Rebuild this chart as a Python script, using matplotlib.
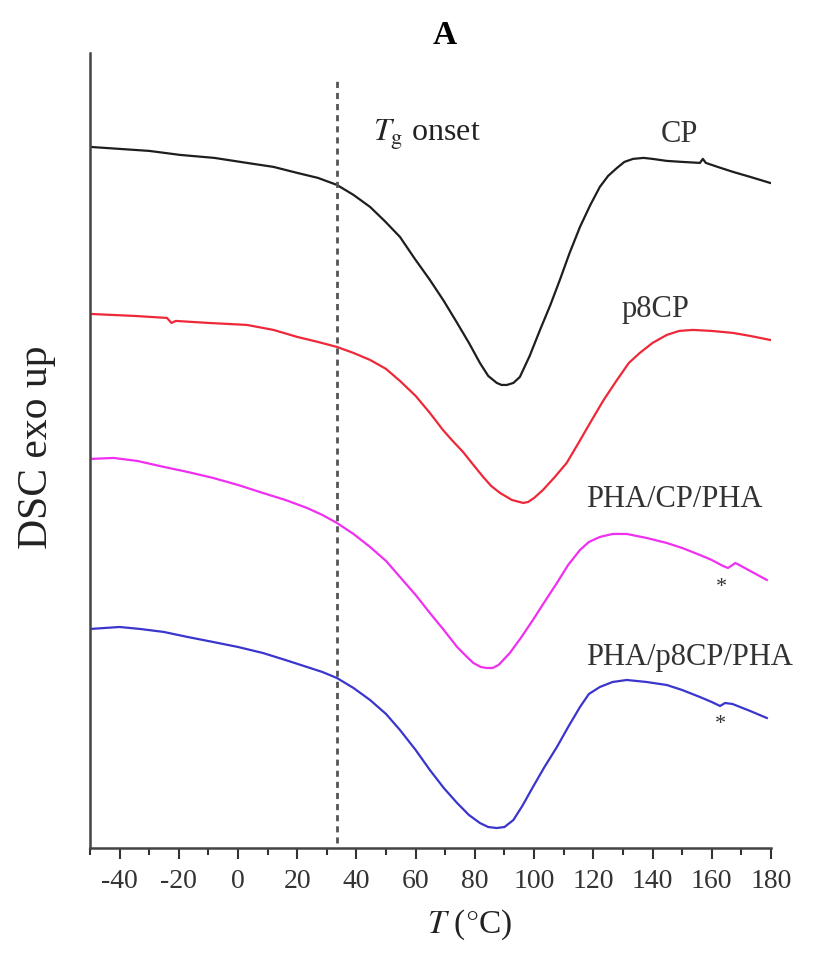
import numpy as np
import matplotlib
matplotlib.use("Agg")
import matplotlib.pyplot as plt
from matplotlib.ticker import MultipleLocator

plt.rcParams['font.family'] = ['Liberation Serif', 'DejaVu Serif']
plt.rcParams['mathtext.fontset'] = 'stix'
plt.rcParams['axes.unicode_minus'] = False

## DSC traces, heat flow in arbitrary units (curves offset for clarity)
T_cp = [-50, -30, -19.6, -8, 3, 12, 20, 27, 33.4, 39, 44.6, 49.5, 54.7, 59.5, 64.8, 69.5, 74, 78,
        81.7, 84.5, 87.4, 89, 90.8, 93, 95.2, 98.5, 102, 105.5, 108.7, 112, 115.5, 119, 122.2,
        125, 128, 130.5, 133.4, 137, 140, 144.8, 150, 156, 157, 158, 162, 167.2, 173, 179.7]
hf_cp = [7.01, 6.97, 6.93, 6.90, 6.85, 6.81, 6.75, 6.70, 6.63, 6.53, 6.41, 6.27, 6.11, 5.90, 5.68,
         5.47, 5.25, 5.05, 4.85, 4.72, 4.65, 4.63, 4.63, 4.65, 4.71, 4.92, 5.18, 5.43, 5.68, 5.95,
         6.21, 6.43, 6.61, 6.72, 6.80, 6.86, 6.89, 6.90, 6.89, 6.87, 6.86, 6.85, 6.89, 6.85, 6.81,
         6.76, 6.71, 6.65]

T_p8cp = [-50, -35, -24, -22.5, -21, -10, 3, 12, 20, 27, 33.4, 39, 44.6, 50, 54.7, 60, 64.8, 69.2,
          72.5, 76, 79.5, 82.8, 85.5, 88.5, 92.5, 96.3, 98, 100, 103, 107, 111, 115, 118.9, 123.5,
          128, 132, 135.7, 140, 144.8, 149, 153.6, 160, 167.2, 173, 179.7]
hf_p8cp = [5.34, 5.32, 5.30, 5.25, 5.27, 5.25, 5.23, 5.18, 5.11, 5.06, 5.01, 4.95, 4.88, 4.79, 4.67,
           4.52, 4.35, 4.18, 4.07, 3.96, 3.83, 3.71, 3.62, 3.55, 3.48, 3.45, 3.46, 3.50, 3.58, 3.71,
           3.85, 4.05, 4.25, 4.48, 4.68, 4.85, 4.95, 5.05, 5.13, 5.17, 5.18, 5.17, 5.15, 5.12, 5.08]

T_pha_cp = [-50, -42, -34, -25, -17, -8.4, 0, 8.4, 16, 23.3, 28.5, 33.4, 39, 44.6, 50, 54.7, 60,
            64.8, 69.5, 74, 77, 79.5, 82, 84, 86, 88, 91.8, 95.5, 99.6, 103.5, 107.7, 111.5, 115.5,
            118.5, 122.2, 126.5, 131.3, 138, 144.8, 150, 156, 160, 163.8, 165.5, 167, 168, 173, 178.6]
hf_pha_cp = [3.89, 3.90, 3.87, 3.81, 3.76, 3.70, 3.63, 3.55, 3.48, 3.40, 3.33, 3.25, 3.14, 3.01,
             2.87, 2.71, 2.53, 2.35, 2.18, 2.01, 1.92, 1.85, 1.81, 1.80, 1.80, 1.83, 1.95, 2.10, 2.28,
             2.46, 2.65, 2.83, 2.98, 3.06, 3.11, 3.14, 3.14, 3.10, 3.05, 3.00, 2.93, 2.88, 2.82, 2.80,
             2.83, 2.85, 2.77, 2.68]

T_pha_p8cp = [-50, -40, -33, -25, -17, -8.4, 0, 8.4, 16, 23.3, 28.5, 33.4, 39, 44.6, 50, 54.7, 60,
              64.8, 69.5, 74, 78, 81.7, 84.5, 87.4, 90, 93, 96, 99.6, 103.5, 107.7, 111.5, 115.5,
              118.5, 122.2, 126.5, 131.3, 138, 144.8, 150, 156, 160, 162.8, 164.5, 167, 173, 178.6]
hf_pha_p8cp = [2.19, 2.21, 2.19, 2.16, 2.11, 2.06, 2.01, 1.95, 1.88, 1.81, 1.76, 1.70, 1.60, 1.48,
               1.34, 1.18, 0.98, 0.78, 0.60, 0.45, 0.33, 0.25, 0.21, 0.20, 0.21, 0.28, 0.42, 0.61,
               0.81, 1.01, 1.21, 1.41, 1.54, 1.61, 1.66, 1.68, 1.66, 1.63, 1.58, 1.51, 1.46, 1.42,
               1.45, 1.44, 1.37, 1.30]

Tg_onset = 33.5

fig = plt.figure(figsize=(8.18, 9.58), dpi=100)
ax = fig.add_axes([0.110, 0.1148, 0.8325, 0.830])

ax.plot(T_cp, hf_cp, color='#1e1e1e', lw=1.6)
ax.plot(T_p8cp, hf_p8cp, color='#ee2838', lw=1.6)
ax.plot(T_pha_cp, hf_pha_cp, color='#f030f0', lw=1.6)
ax.plot(T_pha_p8cp, hf_pha_p8cp, color='#3a35cc', lw=1.6)

## Tg onset marker
ax.vlines(Tg_onset, 0.05, 7.70, colors='#555555', linestyles=(0, (2.2, 1.8)), lw=2.0)
ax.text(45.5, 7.13, r'$T_{\rm g}$ onset', fontsize=23, va='center', ha='left', color='#222222')

## sample labels
lab = dict(fontsize=22, ha='center', va='center', color='#333333')
ax.text(149, 7.13, 'CP', **lab)
ax.text(141, 5.38, 'p8CP', **lab)
ax.text(147.5, 3.48, 'PHA/CP/PHA', **lab)
ax.text(152.5, 1.90, 'PHA/p8CP/PHA', **lab)
ax.text(163.4, 2.60, '*', fontsize=16, ha='center', va='center', color='#333333')
ax.text(162.8, 1.23, '*', fontsize=16, ha='center', va='center', color='#333333')

ax.set_xlim(-50, 180)
ax.set_ylim(0, 7.95)
ax.xaxis.set_minor_locator(MultipleLocator(10))
ax.set_xticks(np.arange(-40, 181, 20))
ax.set_yticks([])
ax.tick_params(axis='x', which='major', direction='out', length=8, width=1.5,
               labelsize=20, pad=7, colors='#333333')
ax.tick_params(axis='x', which='minor', direction='out', length=5, width=1.5, colors='#333333')
for s in ['top', 'right']:
    ax.spines[s].set_visible(False)
for s in ['left', 'bottom']:
    ax.spines[s].set_linewidth(1.8)
    ax.spines[s].set_color('#444444')

fig.text(445 / 818, 1 - 36 / 958, 'A', fontsize=24, fontweight='bold', ha='center', va='center')
fig.text(470 / 818, 1 - 925 / 958, r'$T$ ($\degree$C)', fontsize=24, ha='center', va='center',
         color='#222222')
fig.text(37 / 818, 1 - 447 / 958, 'DSC exo up', fontsize=30, rotation=90, ha='center', va='center',
         color='#222222')

plt.savefig('out.png', dpi=100)
